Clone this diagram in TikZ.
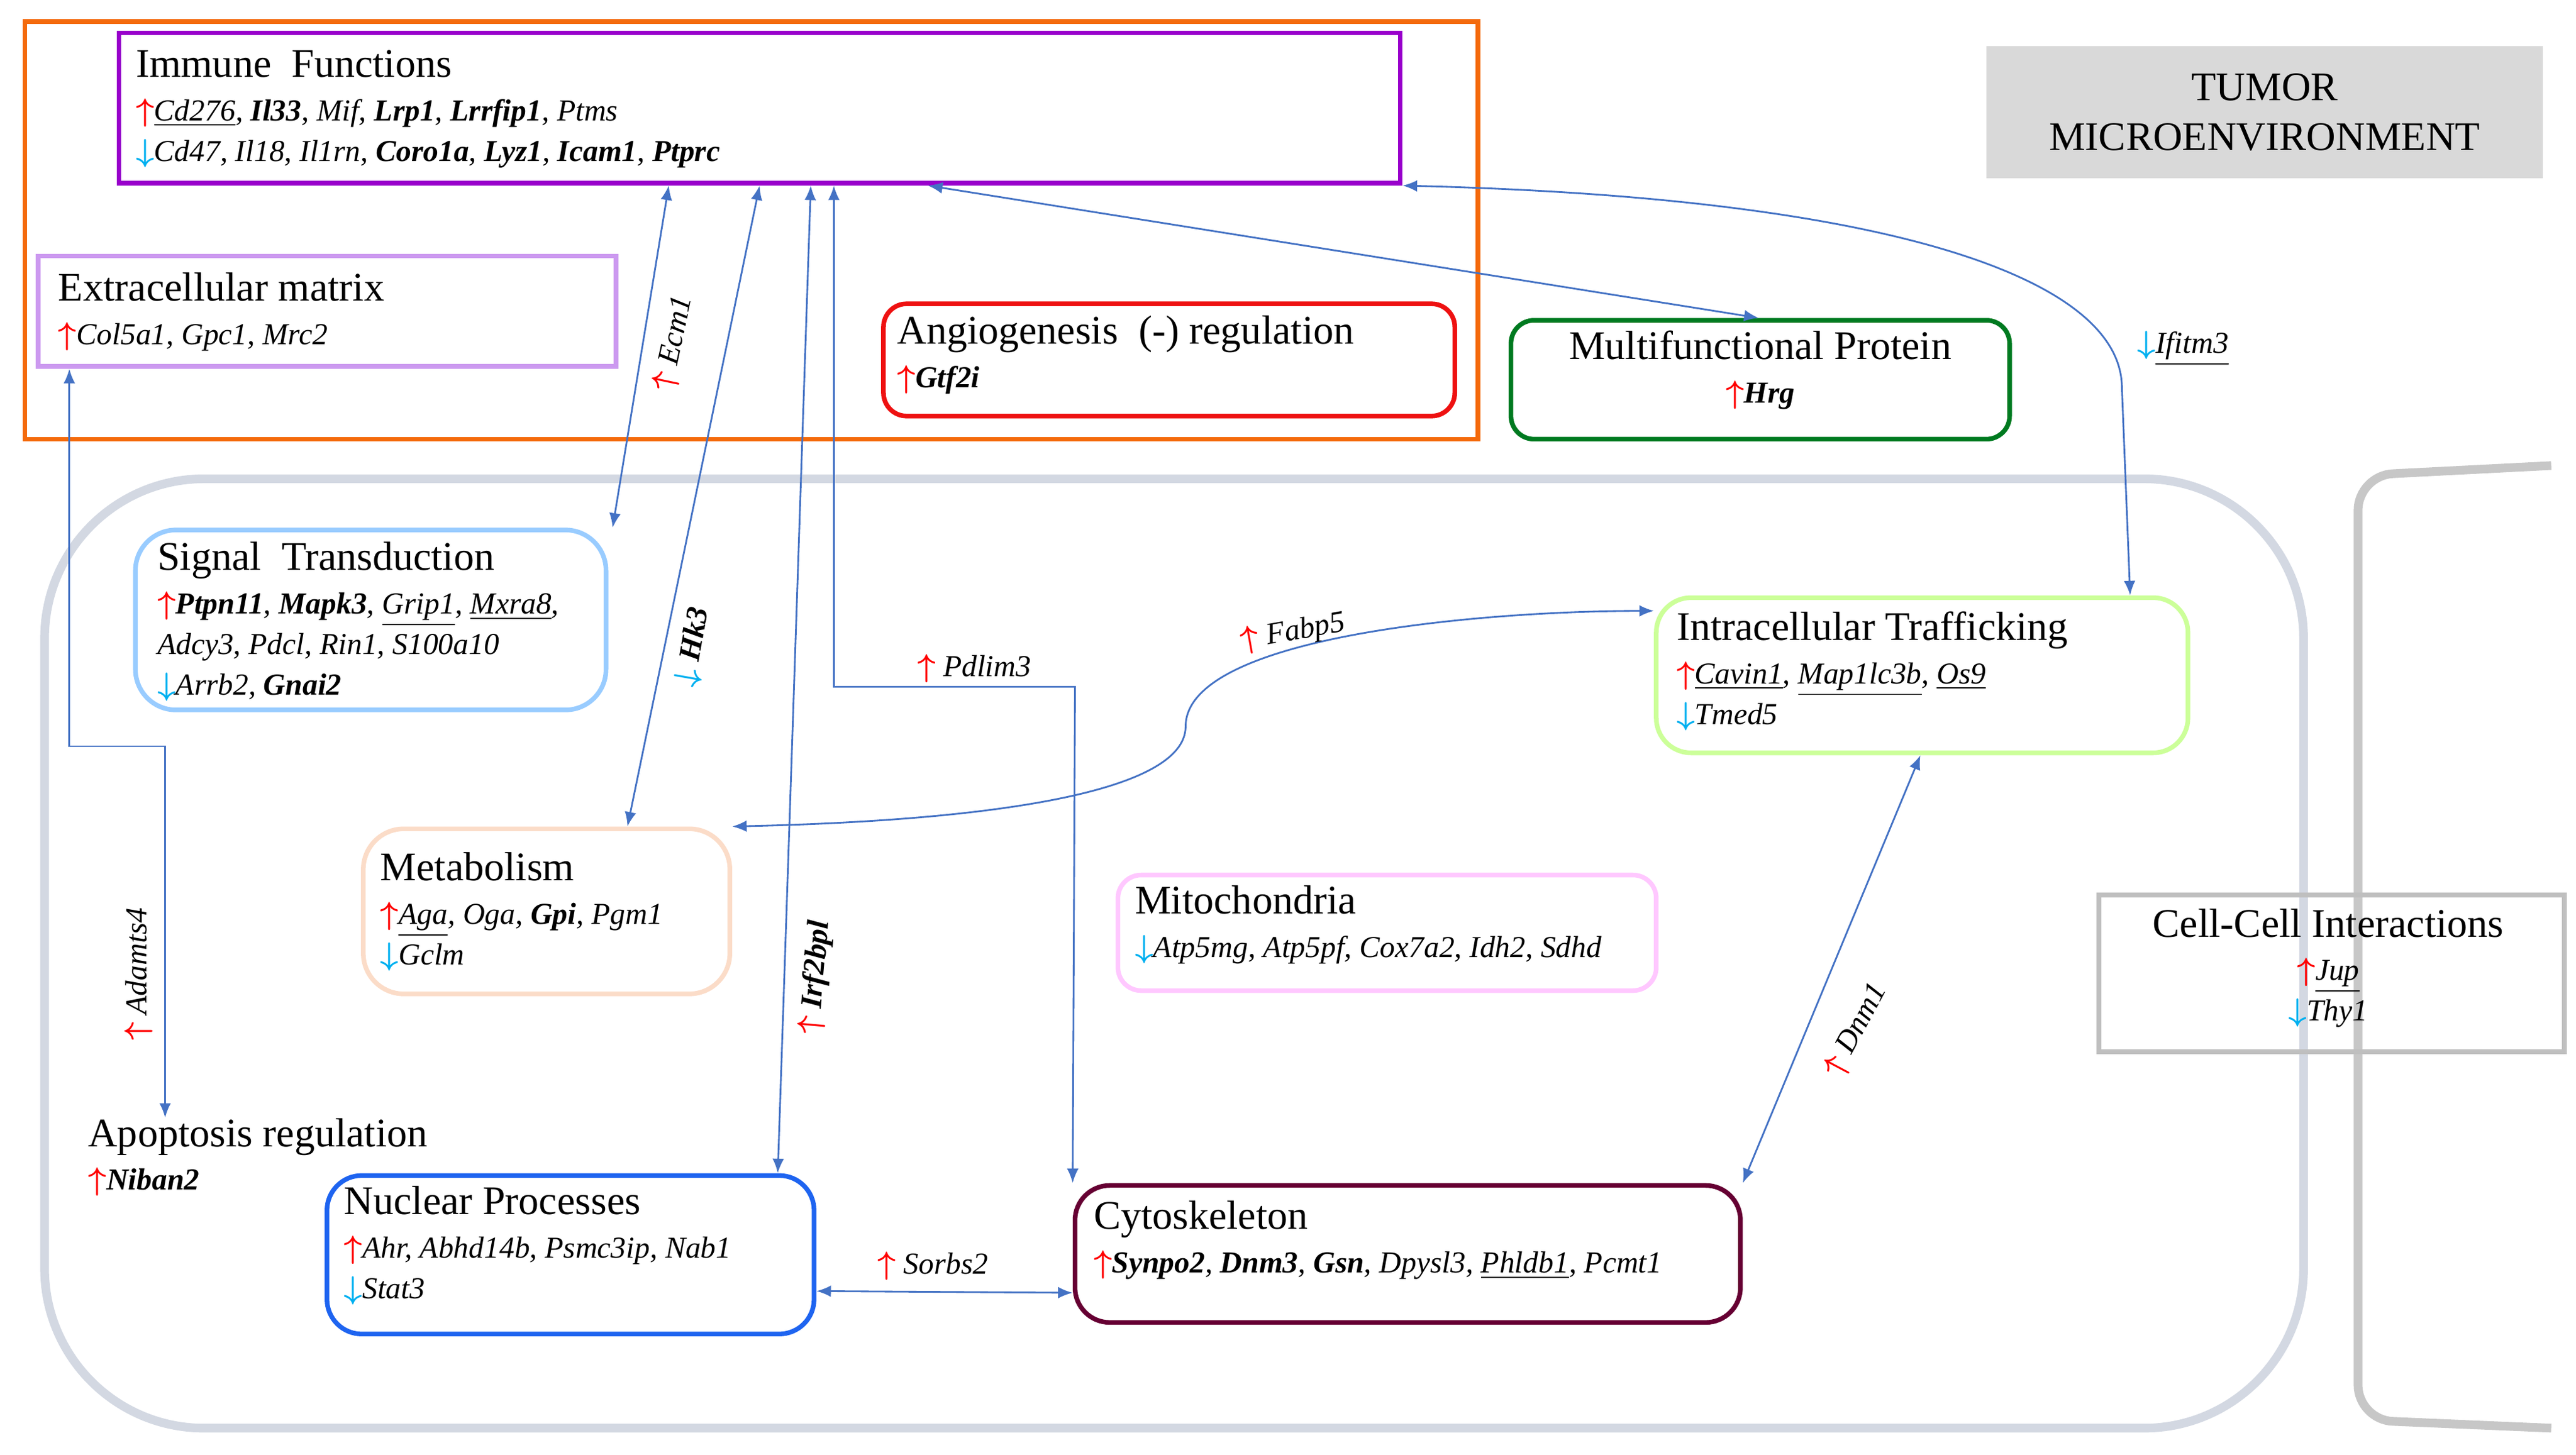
\documentclass[tikz,border=0pt]{standalone}
\usepackage{fontspec}
\setmainfont{Liberation Serif}
\usetikzlibrary{arrows.meta,positioning,fit}
\definecolor{orng}{HTML}{F46A0C}
\definecolor{purp}{HTML}{9900CC}
\definecolor{lpurp}{HTML}{CC99F0}
\definecolor{angred}{HTML}{EE1111}
\definecolor{dgreen}{HTML}{007A20}
\definecolor{cellgray}{HTML}{D3D8E2}
\definecolor{sigblue}{HTML}{99CCFF}
\definecolor{trgreen}{HTML}{CCFF99}
\definecolor{peach}{HTML}{FBDCC8}
\definecolor{pinkm}{HTML}{FFC8FF}
\definecolor{nucblue}{HTML}{1E64F0}
\definecolor{maroon}{HTML}{660033}
\definecolor{linkblue}{HTML}{4472C4}
\definecolor{dnblue}{HTML}{00B0F0}
\newcommand{\upg}{\textcolor{red}{$\boldsymbol\uparrow$}}
\newcommand{\dng}{\textcolor{dnblue}{$\boldsymbol\downarrow$}}
\newcommand{\gn}{\fontsize{10.5}{13}\selectfont\itshape}
\usepackage{amsmath,amssymb}
\tikzset{
	x=0.02cm, y=-0.02cm,
	box/.style = {draw, line width=1.6pt, inner sep=0pt},
	rbox/.style = {box, rounded corners=8pt},
	title/.style = {anchor=north west, inner sep=0pt, align=left, font=\fontsize{14}{17}\selectfont},
	link/.style = {draw=linkblue, line width=0.6pt, {Latex[length=5pt,width=4pt]}-{Latex[length=5pt,width=4pt]}},
	lbl/.style = {font=\fontsize{10.5}{12}\selectfont\itshape, inner sep=1pt},
}
\begin{document}
\begin{tikzpicture}
	\useasboundingbox (0,0) rectangle (1560,881);

	% environment
	\node[box, draw=orng, fit={(15,13) (895,266)}] (tme) {};
	\node[box, draw=none, fill=black!15, fit={(1203,28) (1540,108)}] (tumor) {};
	\node[align=center, font=\fontsize{14}{17}\selectfont] at (tumor) (tumortxt) {TUMOR\\MICROENVIRONMENT};
	\node[draw=cellgray, line width=3pt, rounded corners=55pt, inner sep=0pt, fit={(27,290) (1395,865)}] (cell) {};
	\draw[draw=black!22, line width=3pt, rounded corners=12pt] (1545,282) -- (1428,288) -- (1428,860) -- (1545,865);

	% boxes
	\node[box, draw=purp, fit={(72,20) (848,111)}] (immune) {};
	\node[title] at (82,30) (immunetxt) {Immune\ \ Functions\\[-2pt]
		{\gn \upg\underline{Cd276}, \textbf{Il33}, Mif, \textbf{Lrp1}, \textbf{Lrrfip1}, Ptms}\\[-3pt]
		{\gn \dng Cd47, Il18, Il1rn, \textbf{Coro1a}, \textbf{Lyz1}, \textbf{Icam1}, \textbf{Ptprc}}};

	\node[box, draw=lpurp, fit={(23,155) (373,222)}] (ecm) {};
	\node[title] at (35,165) (ecmtxt) {Extracellular matrix\\[-2pt]
		{\gn \upg Col5a1, Gpc1, Mrc2}};

	\node[rbox, draw=angred, fit={(535,184) (881,252)}] (angio) {};
	\node[title] at (543,191) (angiotxt) {Angiogenesis\ \ (-) regulation\\[-2pt]
		{\gn \upg\textbf{Gtf2i}}};

	\node[rbox, draw=dgreen, fit={(915,194) (1217,266)}] (multi) {};
	\node[title, align=center, anchor=north] at (1066,200) (multitxt) {Multifunctional Protein\\[-2pt]
		{\gn \upg\textbf{Hrg}}};

	\node[rbox, draw=sigblue, rounded corners=14pt, fit={(82,321) (367,430)}] (signal) {};
	\node[title] at (95,328) (signaltxt) {Signal\ \ Transduction\\[-2pt]
		{\gn \upg\textbf{Ptpn11}, \textbf{Mapk3}, \underline{Grip1}, \underline{Mxra8},}\\[-3pt]
		{\gn Adcy3, Pdcl, Rin1, S100a10}\\[-3pt]
		{\gn \dng Arrb2, \textbf{Gnai2}}};

	\node[rbox, draw=trgreen, rounded corners=12pt, fit={(1003,362) (1325,456)}] (traffic) {};
	\node[title] at (1015,370) (traffictxt) {Intracellular Trafficking\\[-2pt]
		{\gn \upg\underline{Cavin1}, \underline{Map1lc3b}, \underline{Os9}}\\[-3pt]
		{\gn \dng Tmed5}};

	\node[rbox, draw=peach, rounded corners=14pt, fit={(220,502) (442,602)}] (metab) {};
	\node[title] at (230,516) (metabtxt) {Metabolism\\[-2pt]
		{\gn \upg\underline{Aga}, Oga, \textbf{Gpi}, Pgm1}\\[-3pt]
		{\gn \dng Gclm}};

	\node[rbox, draw=pinkm, fit={(677,530) (1003,600)}] (mito) {};
	\node[title] at (687,536) (mitotxt) {Mitochondria\\[-2pt]
		{\gn \dng Atp5mg, Atp5pf, Cox7a2, Idh2, Sdhd}};

	\node[box, draw=black!25, fit={(1271,542) (1553,637)}] (cellcell) {};
	\node[title, align=center, anchor=north] at (1410,550) (cellcelltxt) {Cell-Cell Interactions\\[-2pt]
		{\gn \upg\underline{Jup}}\\[-3pt]
		{\gn \dng Thy1}};

	\node[title] at (53,677) (apopt) {Apoptosis regulation\\[-2pt]
		{\gn \upg\textbf{Niban2}}};

	\node[rbox, draw=nucblue, rounded corners=12pt, fit={(198,712) (493,808)}] (nuclear) {};
	\node[title] at (208,718) (nucleartxt) {Nuclear Processes\\[-2pt]
		{\gn \upg Ahr, Abhd14b, Psmc3ip, Nab1}\\[-3pt]
		{\gn \dng Stat3}};

	\node[rbox, draw=maroon, rounded corners=12pt, fit={(651,718) (1054,801)}] (cyto) {};
	\node[title] at (662,727) (cytotxt) {Cytoskeleton\\[-2pt]
		{\gn \upg\textbf{Synpo2}, \textbf{Dnm3}, \textbf{Gsn}, Dpysl3, \underline{Phldb1}, Pcmt1}};

	% connectors
	\draw[link] (immune.south -| 405,0) -- (signal.north -| 371,0);
	\node[lbl, rotate=78] at (408,208) (ecm1) {\upg\ Ecm1};
	\draw[link] (immune.south -| 460,0) -- (metab.north -| 380,0);
	\node[lbl, rotate=80] at (420,392) (hk3) {\dng\ \textbf{Hk3}};
	\draw[link] (immune.south -| 491,0) -- (nuclear.north -| 471,0);
	\node[lbl, rotate=85] at (494,592) (irf) {\upg\ \textbf{Irf2bpl}};
	\draw[link] (immune.south -| 505,0) -- (505,416) -- (651,416) -- (cyto.north west);
	\node[lbl] at (590,405) (pdlim) {\upg\ Pdlim3};
	\draw[link] (immune.south -| 562,0) -- (multi.north -| 1065,0);
	\draw[link] (immune.south east) .. controls (1150,120) and (1285,170) .. (1285,235) -- (traffic.north -| 1290,0);
	\node[lbl] at (1322,211) (ifitm) {\dng\underline{Ifitm3}};
	\draw[link] (ecm.south -| 42,0) -- (42,452) -- (100,452) -- (apopt.north -| 100,0);
	\node[lbl, rotate=90] at (84,590) (adam) {\upg\ Adamts4};
	\draw[link] (metab.north east) .. controls (600,497) and (718,480) .. (718,440) .. controls (718,385) and (900,370) .. (traffic.north west |- 0,370);
	\node[lbl, rotate=10] at (783,383) (fabp) {\upg\ Fabp5};
	\draw[link] (nuclear.east |- 0,782) -- (cyto.west |- 0,783);
	\node[lbl] at (565,767) (sorbs) {\upg\ Sorbs2};
	\draw[link] (cyto.north east) -- (traffic.south -| 1163,0);
	\node[lbl, rotate=62] at (1124,624) (dnm1) {\upg\ Dnm1};
\end{tikzpicture}
\end{document}
